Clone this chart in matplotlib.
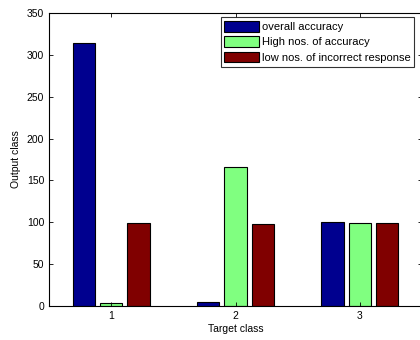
import numpy as np
import matplotlib
matplotlib.use('Agg')
import matplotlib.pyplot as plt

plt.rcParams['font.family'] = ['Liberation Sans', 'DejaVu Sans']

classes = ['1', '2', '3']
overall = [314, 5, 100]
high_acc = [4, 166, 99]
low_incorrect = [99, 98, 99]
labels = ['overall accuracy', 'High nos. of accuracy', 'low nos. of incorrect response']
colors = ['#00008F', '#80FF80', '#800000']

fig = plt.figure(figsize=(4.2, 3.4), dpi=100)
ax = fig.add_axes([0.117, 0.1, 0.888, 0.862])

x = np.arange(1, len(classes) + 1)
w = 0.18
off = 0.22
for i, (vals, lab, c) in enumerate(zip([overall, high_acc, low_incorrect], labels, colors)):
    ax.bar(x + (i - 1) * off, vals, w, color=c, edgecolor='black', linewidth=0.8, label=lab)

ax.set_xlim(0.5, 3.5)
ax.set_ylim(0, 350)
ax.set_xticks(x)
ax.set_xticklabels(classes)
ax.set_yticks(np.arange(0, 351, 50))
ax.tick_params(direction='in', length=3, width=0.6, labelsize=7.5, top=True, right=True)
for s in ax.spines.values():
    s.set_linewidth(0.8)

ax.set_xlabel('Target class', fontsize=7.5, labelpad=2)
ax.set_ylabel('Output class', fontsize=7.5, labelpad=4)

leg = ax.legend(loc='upper right', bbox_to_anchor=(0.979, 0.986), fontsize=8, frameon=True,
                fancybox=False, edgecolor='black', handlelength=3.15, handleheight=1.1,
                handletextpad=0.2, labelspacing=0.38, borderpad=0.35, borderaxespad=0.0)
leg.get_frame().set_linewidth(0.8)

fig.savefig('out.png', dpi=100)
